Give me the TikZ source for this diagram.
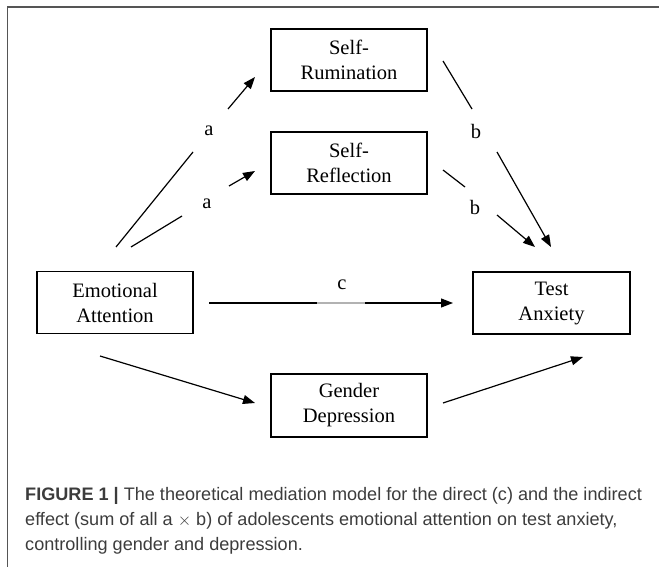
\documentclass[tikz,border=0pt]{standalone}
\usepackage{fontspec}
\setmainfont{Liberation Serif}
\newfontfamily\capfont{Liberation Sans}
\usetikzlibrary{arrows.meta}
\definecolor{capgray}{HTML}{3C3C3C}
\definecolor{framegray}{HTML}{555555}
\begin{document}
\begin{tikzpicture}[x=1pt,y=-1pt,
  varbox/.style={draw=black, line width=1.1pt, minimum width=156pt, minimum height=62pt,
    align=center, inner sep=0pt, font=\fontsize{20.5}{25}\selectfont},
  conn/.style={line width=1.2pt},
  arr/.style={line width=1.2pt, -{Triangle[length=12pt,width=9pt]}},
  lab/.style={font=\fontsize{20.5}{25}\selectfont, inner sep=0pt},
  capline/.style={anchor=base west, inner sep=0pt, text=capgray,
    font=\capfont\fontsize{18.1}{25}\selectfont}]
\useasboundingbox (0,0) rectangle (659,567);
% frame (left and top sides visible)
\draw[framegray, line width=1.3pt] (7.5,567) -- (7.5,7) -- (659,7);

% boxes
\node[varbox] (sr) at (349,60) {Self-\\Rumination};
\node[varbox] (sf) at (349,163) {Self-\\Reflection};
\node[varbox] (ea) at (115,302.5) {Emotional\\Attention};
\node[varbox, minimum width=157pt] (ta) at (551.5,303) {Test\\Anxiety};
\node[varbox, minimum height=63pt] (gd) at (349,405.5) {Gender\\Depression};

% path a (to Self-Rumination)
\coordinate (a1s) at (116,247); \coordinate (a1m) at (193,152);
\coordinate (a1n) at (228,109); \coordinate (a1e) at (255,77);
\draw[conn] (a1s) -- (a1m);
\node[lab] (la1) at (209,131) {a};
\draw[arr] (a1n) -- (a1e);

% path a (to Self-Reflection)
\coordinate (a2s) at (131,247); \coordinate (a2m) at (182,216);
\coordinate (a2n) at (229,186); \coordinate (a2e) at (255,171);
\draw[conn] (a2s) -- (a2m);
\node[lab] (la2) at (207,204) {a};
\draw[arr] (a2n) -- (a2e);

% path b (from Self-Rumination)
\coordinate (b1s) at (443,61); \coordinate (b1m) at (472,109);
\coordinate (b1n) at (497,152); \coordinate (b1e) at (551,247);
\draw[conn] (b1s) -- (b1m);
\node[lab] (lb1) at (476,131) {b};
\draw[arr] (b1n) -- (b1e);

% path b (from Self-Reflection)
\coordinate (b2s) at (443,170); \coordinate (b2m) at (465,187);
\coordinate (b2n) at (497,215); \coordinate (b2e) at (535,247);
\draw[conn] (b2s) -- (b2m);
\node[lab] (lb2) at (475,207) {b};
\draw[arr] (b2n) -- (b2e);

% path c (direct)
\coordinate (cs) at (209,303); \coordinate (cm) at (317,303);
\coordinate (cn) at (365,303); \coordinate (ce) at (453,303);
\draw[conn] (cs) -- (cm);
\draw[conn, black!30] (cm) -- (cn);
\draw[arr] (cn) -- (ce);
\node[lab] (lc) at (342,285) {c};

% gender / depression paths
\coordinate (g1s) at (100,356); \coordinate (g1e) at (255,403);
\coordinate (g2s) at (443,403); \coordinate (g2e) at (583,357);
\draw[arr] (g1s) -- (g1e);
\draw[arr] (g2s) -- (g2e);

% caption
\node[capline] (cap1) at (25,500) {\textbf{FIGURE 1 |} The theoretical mediation model for the direct (c) and the indirect};
\node[capline] (cap2) at (25,525) {effect (sum of all a \(\times\) b) of adolescents emotional attention on test anxiety,};
\node[capline] (cap3) at (25,550) {controlling gender and depression.};
\end{tikzpicture}
\end{document}
